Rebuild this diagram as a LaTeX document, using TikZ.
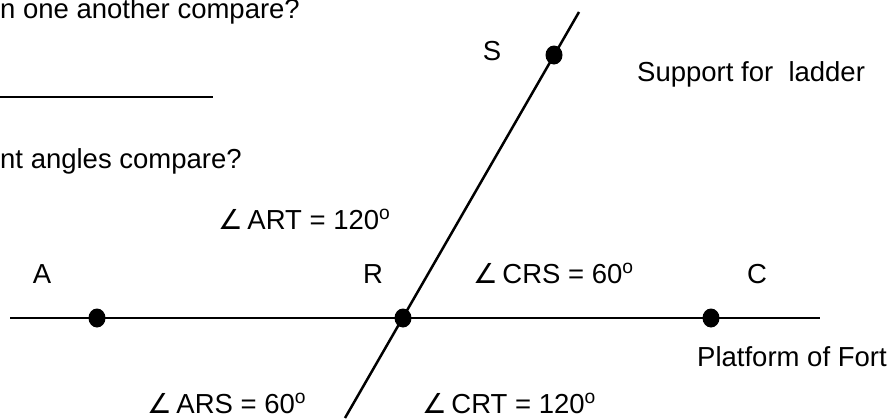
\documentclass[tikz,border=0pt]{standalone}
\usepackage{fontspec}
\setmainfont{Liberation Sans}
\newfontfamily\symfont{DejaVu Sans}
\usetikzlibrary{positioning,shapes.geometric}
\newcommand{\ang}{{\symfont ∠}\,}
\newcommand{\dg}{\textsuperscript{o}}

\begin{document}
\begin{tikzpicture}[
  x=1pt, y=-1pt,
  font=\fontsize{27.5}{32}\selectfont,
  dot/.style={ellipse, fill, inner sep=0pt, minimum width=17pt, minimum height=19pt},
  lbl/.style={anchor=base west, inner sep=0pt},
  pt/.style={anchor=base, inner sep=0pt},
  ln/.style={line width=2.5pt}
]
  \useasboundingbox (0,0) rectangle (896,418);

  \node[lbl] (q1) at (0,18) {n one another compare?};
  \coordinate (b1) at (0,97);
  \coordinate (b2) at (213,97);
  \draw[line width=1.5pt] (b1) -- (b2);
  \node[lbl] (q2) at (0,168) {nt angles compare?};

  \coordinate (L) at (10,318);
  \coordinate (E) at (820,318);
  \coordinate (T) at (345,418);
  \coordinate (U) at (579,12);
  \node[dot] (A) at (97,318) {};
  \node[dot] (R) at (403,318) {};
  \node[dot] (C) at (711,318) {};
  \node[dot] (S) at (554,55) {};

  \draw[ln] (L) -- (E);
  \draw[ln] (T) -- (U);

  \node[pt] (lS) at (492,60) {S};
  \node[pt] (lA) at (42,283) {A};
  \node[pt] (lR) at (373,283) {R};
  \node[pt] (lC) at (757,283) {C};

  \node[lbl] (sup) at (637,81) {Support for\ \ ladder};
  \node[lbl] (plat) at (697,366) {Platform of Fort};
  \node[lbl] (art) at (218,229) {\ang ART = 120\dg};
  \node[lbl] (crs) at (473,283) {\ang CRS = 60\dg};
  \node[lbl] (ars) at (147,413) {\ang ARS = 60\dg};
  \node[lbl] (crt) at (422,413) {\ang CRT = 120\dg};
\end{tikzpicture}
\end{document}
